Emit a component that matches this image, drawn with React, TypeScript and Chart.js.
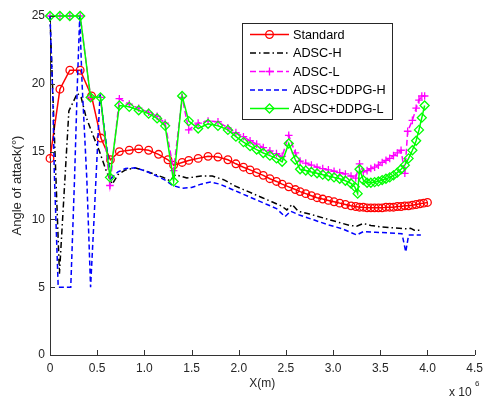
import React, { useEffect, useRef } from 'react';
import { Chart, registerables } from 'chart.js';

Chart.register(...registerables);

// ---- data (x in units of 1e6 m, y in degrees) ----
const standardX = [0, 0.105, 0.21, 0.32, 0.44, 0.54, 0.64, 0.735, 0.84, 0.94, 1.045, 1.15, 1.25, 1.31, 1.40, 1.47, 1.57, 1.675, 1.78, 1.885, 1.97, 2.05, 2.12, 2.19, 2.26, 2.33, 2.40, 2.46, 2.53, 2.60, 2.65, 2.71, 2.77, 2.83, 2.89, 2.95, 3.01, 3.07, 3.13, 3.19, 3.24, 3.28, 3.32, 3.36, 3.40, 3.44, 3.48, 3.52, 3.56, 3.60, 3.64, 3.68, 3.72, 3.76, 3.80, 3.84, 3.88, 3.92, 3.96, 4.0];
const standardY = [14.5, 19.6, 21.0, 21.0, 19.1, 16.0, 14.4, 15.0, 15.1, 15.2, 15.1, 14.8, 14.4, 14.0, 14.2, 14.35, 14.5, 14.65, 14.6, 14.4, 14.1, 13.85, 13.65, 13.45, 13.25, 13.0, 12.8, 12.6, 12.4, 12.2, 12.05, 11.9, 11.75, 11.6, 11.5, 11.4, 11.3, 11.2, 11.1, 11.0, 10.95, 10.9, 10.9, 10.85, 10.85, 10.85, 10.85, 10.85, 10.9, 10.9, 10.9, 10.95, 10.95, 11.0, 11.0, 11.05, 11.1, 11.15, 11.2, 11.25];

const adscHX = [0, 0.1, 0.15, 0.2, 0.29, 0.33, 0.38, 0.45, 0.52, 0.6, 0.66, 0.72, 0.8, 0.9, 1.0, 1.1, 1.2, 1.27, 1.33, 1.45, 1.6, 1.72, 1.85, 1.95, 2.05, 2.15, 2.25, 2.35, 2.45, 2.51, 2.565, 2.63, 2.75, 2.9, 3.05, 3.18, 3.25, 3.32, 3.4, 3.5, 3.6, 3.7, 3.78, 3.82, 3.86, 3.93];
const adscHY = [25, 6.0, 12.0, 18.0, 19.3, 19.0, 17.6, 16.3, 15.1, 13.5, 12.6, 13.3, 13.65, 13.8, 13.6, 13.35, 13.1, 12.85, 13.3, 13.05, 13.2, 13.2, 12.9, 12.5, 12.2, 11.9, 11.6, 11.3, 11.0, 10.7, 11.1, 10.6, 10.4, 10.1, 9.8, 9.55, 9.5, 9.7, 9.55, 9.45, 9.4, 9.35, 9.3, 9.35, 9.2, 9.2];

const adscLX = [0, 0.105, 0.21, 0.32, 0.43, 0.535, 0.635, 0.735, 0.84, 0.94, 1.045, 1.135, 1.22, 1.31, 1.40, 1.47, 1.57, 1.675, 1.78, 1.885, 1.97, 2.05, 2.12, 2.19, 2.26, 2.33, 2.40, 2.46, 2.53, 2.60, 2.65, 2.71, 2.77, 2.83, 2.89, 2.95, 3.01, 3.07, 3.13, 3.19, 3.24, 3.28, 3.32, 3.36, 3.40, 3.44, 3.48, 3.52, 3.56, 3.60, 3.64, 3.68, 3.72, 3.76, 3.79, 3.84, 3.88, 3.91, 3.94, 3.97];
const adscLY = [25, 25, 25, 25, 19.0, 19.0, 12.5, 18.9, 18.5, 18.2, 17.9, 17.6, 17.1, 13.6, 19.0, 16.6, 17.1, 17.25, 17.2, 16.75, 16.4, 16.1, 15.8, 15.55, 15.3, 15.05, 14.85, 14.65, 16.2, 14.9, 14.3, 14.15, 14.0, 13.85, 13.75, 13.65, 13.55, 13.45, 13.35, 13.2, 13.05, 14.1, 13.5, 13.6, 13.75, 13.85, 14.0, 14.2, 14.35, 14.5, 14.7, 14.9, 15.1, 13.4, 16.5, 17.3, 18.2, 18.8, 19.1, 19.1];

const ddpgHX = [0, 0.03, 0.045, 0.087, 0.22, 0.26, 0.29, 0.315, 0.34, 0.39, 0.43, 0.47, 0.53, 0.645, 0.72, 0.8, 0.9, 1.0, 1.1, 1.22, 1.3, 1.4, 1.5, 1.6, 1.7, 1.8, 1.9, 2.0, 2.1, 2.2, 2.3, 2.4, 2.49, 2.55, 2.65, 2.8, 2.95, 3.1, 3.2, 3.25, 3.32, 3.45, 3.6, 3.73, 3.77, 3.8, 3.93];
const ddpgHY = [25, 19, 13.6, 5, 5, 13, 20, 25, 20, 13, 5, 10.5, 19.2, 13.0, 13.5, 13.75, 13.8, 13.6, 13.3, 12.9, 12.5, 12.3, 12.35, 12.6, 12.75, 12.6, 12.3, 12.0, 11.7, 11.4, 11.1, 10.8, 10.2, 10.6, 10.3, 9.95, 9.6, 9.3, 9.0, 8.85, 9.1, 9.05, 9.0, 8.95, 7.6, 8.85, 8.85];

const ddpgLX = [0, 0.105, 0.21, 0.32, 0.43, 0.535, 0.635, 0.735, 0.84, 0.94, 1.045, 1.135, 1.22, 1.31, 1.40, 1.47, 1.57, 1.675, 1.78, 1.885, 1.97, 2.05, 2.12, 2.19, 2.26, 2.33, 2.40, 2.46, 2.53, 2.60, 2.65, 2.71, 2.77, 2.83, 2.89, 2.95, 3.01, 3.07, 3.13, 3.19, 3.23, 3.26, 3.28, 3.32, 3.36, 3.40, 3.44, 3.48, 3.52, 3.56, 3.60, 3.64, 3.68, 3.72, 3.76, 3.80, 3.84, 3.88, 3.91, 3.94, 3.97];
const ddpgLY = [25, 25, 25, 25, 19.0, 19.0, 13.1, 18.4, 18.3, 18.05, 17.8, 17.45, 16.9, 12.8, 19.1, 17.25, 16.7, 17.05, 16.9, 16.6, 16.1, 15.7, 15.4, 15.15, 14.9, 14.7, 14.5, 14.25, 15.6, 14.4, 13.7, 13.6, 13.5, 13.4, 13.3, 13.2, 13.1, 13.0, 12.85, 12.65, 12.4, 11.9, 13.7, 12.9, 12.7, 12.7, 12.75, 12.8, 12.9, 13.0, 13.1, 13.25, 13.45, 13.7, 14.0, 14.5, 15.1, 15.8, 16.6, 17.5, 18.4];

const seriesNames = ['Standard', 'ADSC-H', 'ADSC-L', 'ADSC+DDPG-H', 'ADSC+DDPG-L'];
const xTickValues = [0, 0.5, 1, 1.5, 2, 2.5, 3, 3.5, 4, 4.5];
const yTickValues = [0, 5, 10, 15, 20, 25];

const FONT = '"Liberation Sans", Arial, Helvetica, sans-serif';

type Style = { color: string; dash: number[]; marker: 'circle' | 'cross' | 'rectRot' | null };
const styles: Style[] = [
  { color: '#ff0000', dash: [], marker: 'circle' },
  { color: '#000000', dash: [6, 3, 1.5, 3], marker: null },
  { color: '#ff00ff', dash: [6, 3], marker: 'cross' },
  { color: '#0000ff', dash: [5, 3], marker: null },
  { color: '#00ff00', dash: [], marker: 'rectRot' },
];

function toPts(xs: number[], ys: number[]) {
  return xs.map((x, i) => ({ x, y: ys[i] }));
}

function drawMarker(ctx: CanvasRenderingContext2D, kind: string | null, x: number, y: number, color: string) {
  if (!kind) return;
  ctx.save();
  ctx.setLineDash([]);
  ctx.strokeStyle = color;
  ctx.lineWidth = 1.3;
  ctx.beginPath();
  if (kind === 'circle') {
    ctx.arc(x, y, 3.8, 0, Math.PI * 2);
  } else if (kind === 'cross') {
    ctx.moveTo(x - 4, y); ctx.lineTo(x + 4, y);
    ctx.moveTo(x, y - 4); ctx.lineTo(x, y + 4);
  } else if (kind === 'rectRot') {
    ctx.moveTo(x, y - 4.5); ctx.lineTo(x + 4.5, y); ctx.lineTo(x, y + 4.5); ctx.lineTo(x - 4.5, y); ctx.closePath();
  }
  ctx.stroke();
  ctx.restore();
}

const decorPlugin = {
  id: 'matlabDecor',
  afterDraw(chart: any) {
    const { ctx, scales } = chart;
    const xs = scales.x;
    const ys = scales.y;
    ctx.save();
    // inside ticks
    ctx.strokeStyle = '#333333';
    ctx.lineWidth = 1;
    ctx.setLineDash([]);
    xTickValues.forEach((v) => {
      const px = Math.round(xs.getPixelForValue(v)) + 0.5;
      ctx.beginPath();
      ctx.moveTo(px, ys.bottom);
      ctx.lineTo(px, ys.bottom - 5);
      ctx.stroke();
    });
    yTickValues.forEach((v) => {
      const py = Math.round(ys.getPixelForValue(v)) + 0.5;
      ctx.beginPath();
      ctx.moveTo(xs.left, py);
      ctx.lineTo(xs.left + 5, py);
      ctx.stroke();
    });

    // axis titles
    ctx.fillStyle = '#262626';
    ctx.font = `12px ${FONT}`;
    ctx.textAlign = 'center';
    ctx.textBaseline = 'middle';
    ctx.fillText('X(m)', (xs.left + xs.right) / 2, 384);
    ctx.save();
    ctx.translate(17, (ys.top + ys.bottom) / 2);
    ctx.rotate(-Math.PI / 2);
    ctx.font = `13px ${FONT}`;
    ctx.fillText('Angle of attack(°)', 0, 0);
    ctx.restore();

    // exponent label
    ctx.textAlign = 'left';
    ctx.textBaseline = 'alphabetic';
    ctx.font = `12px ${FONT}`;
    ctx.fillText('x 10', 449, 396);
    ctx.font = `8px ${FONT}`;
    ctx.fillText('6', 475, 386);

    // legend
    const lx = 242.5, ly = 23.5, lw = 150, lh = 96;
    ctx.fillStyle = '#ffffff';
    ctx.fillRect(lx, ly, lw, lh);
    ctx.strokeStyle = '#262626';
    ctx.lineWidth = 1;
    ctx.strokeRect(lx, ly, lw, lh);
    ctx.font = `12.7px ${FONT}`;
    ctx.textBaseline = 'middle';
    seriesNames.forEach((name, i) => {
      const st = styles[i];
      const cy = 34.5 + i * 18.5;
      ctx.save();
      ctx.strokeStyle = st.color;
      ctx.lineWidth = 1.5;
      ctx.setLineDash(st.dash);
      ctx.beginPath();
      ctx.moveTo(250, cy);
      ctx.lineTo(289, cy);
      ctx.stroke();
      ctx.restore();
      drawMarker(ctx, st.marker, 269.5, cy, st.color);
      ctx.fillStyle = '#000000';
      ctx.fillText(name, 293, cy + 0.5);
    });
    ctx.restore();
  },
};

export default function App() {
  const canvasRef = useRef<HTMLCanvasElement | null>(null);

  useEffect(() => {
    const canvas = canvasRef.current;
    if (!canvas) return;
    const allX = [standardX, adscHX, adscLX, ddpgHX, ddpgLX];
    const allY = [standardY, adscHY, adscLY, ddpgHY, ddpgLY];
    const datasets = seriesNames.map((name, i) => {
      const st = styles[i];
      return {
        label: name,
        data: toPts(allX[i], allY[i]),
        borderColor: st.color,
        backgroundColor: 'rgba(0,0,0,0)',
        borderWidth: 1.5,
        borderDash: st.dash,
        pointStyle: st.marker || 'circle',
        pointRadius: st.marker ? (st.marker === 'rectRot' ? 4.5 : 3.8) : 0,
        pointBorderWidth: 1.3,
        pointBorderColor: st.color,
        pointBackgroundColor: 'rgba(0,0,0,0)',
        tension: 0,
        fill: false,
        clip: false as any,
        order: 4 - i,
      };
    });

    const chart = new Chart(canvas, {
      type: 'line',
      data: { datasets: datasets as any },
      options: {
        animation: false,
        responsive: false,
        maintainAspectRatio: false,
        devicePixelRatio: 1,
        layout: { padding: { left: 0, right: 9, top: 16, bottom: 0 } },
        plugins: {
          legend: { display: false },
          tooltip: { enabled: false },
        },
        scales: {
          x: {
            type: 'linear',
            min: 0,
            max: 4.5,
            afterFit: (s: any) => { s.height = 46; },
            grid: { display: false, drawTicks: false },
            border: { display: true, color: '#333333', width: 1 },
            ticks: {
              stepSize: 0.5,
              padding: 6,
              autoSkip: false,
              maxRotation: 0,
              color: '#262626',
              font: { family: FONT, size: 12 },
            },
          },
          y: {
            type: 'linear',
            min: 0,
            max: 25,
            afterFit: (s: any) => { s.width = 50; },
            grid: { display: false, drawTicks: false },
            border: { display: true, color: '#333333', width: 1 },
            ticks: {
              stepSize: 5,
              padding: 5,
              color: '#262626',
              font: { family: FONT, size: 12 },
            },
          },
        },
      },
      plugins: [decorPlugin],
    });
    return () => chart.destroy();
  }, []);

  return (
    <div style={{ position: 'fixed', left: 0, top: 0, width: 489, height: 401, background: '#ffffff' }}>
      <canvas ref={canvasRef} width={489} height={401} style={{ display: 'block', width: 489, height: 401 }} />
    </div>
  );
}
